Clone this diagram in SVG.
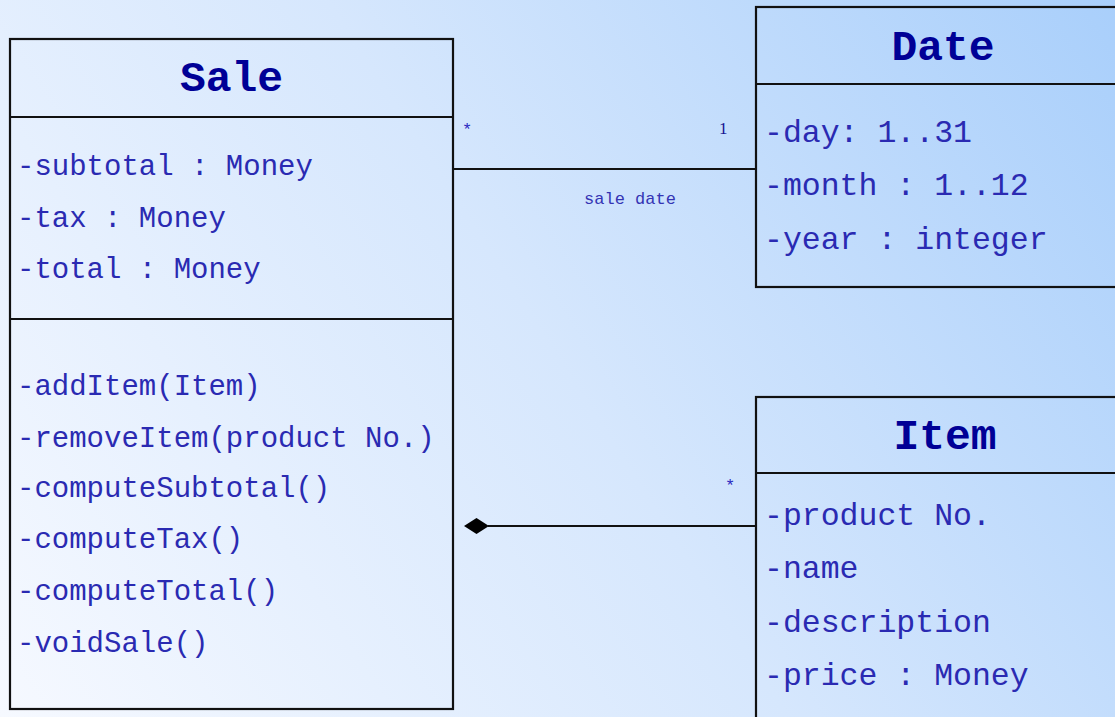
<svg xmlns="http://www.w3.org/2000/svg" width="1115" height="717" viewBox="0 0 1115 717">
  <defs>
    <linearGradient id="bg" gradientUnits="userSpaceOnUse" x1="0" y1="717" x2="1115" y2="0">
      <stop offset="0" stop-color="#f6f9ff"/>
      <stop offset="0.5" stop-color="#d6e7fd"/>
      <stop offset="1" stop-color="#a9cffb"/>
    </linearGradient>
    <style>
      .box { fill: none; stroke: #111; stroke-width: 2.2; }
      .sep { stroke: #111; stroke-width: 2.2; }
      .title { font-family: "Liberation Mono", "Courier New", monospace; font-weight: bold; font-size: 43px; fill: #000096; text-anchor: middle; }
      .attr { font-family: "Liberation Mono", "Courier New", monospace; fill: #2a2ab2; }
      .sa { font-size: 29px; }
      .da { font-size: 31.5px; }
      .conn { stroke: #111; stroke-width: 2.2; fill: none; }
      .mult { font-family: "Liberation Mono", "Courier New", monospace; font-size: 17px; fill: #2a2ac0; }
      .one { font-family: "Liberation Serif", "Times New Roman", serif; font-size: 17px; fill: #141490; }
      .role { font-family: "Liberation Mono", "Courier New", monospace; font-size: 17px; fill: #3434b4; text-anchor: middle; }
    </style>
  </defs>

  <rect x="0" y="0" width="1115" height="717" fill="url(#bg)"/>

  <!-- Sale class -->
  <g id="sale">
    <rect class="box" x="10" y="39" width="443" height="670"/>
    <line class="sep" x1="10" y1="117" x2="453" y2="117"/>
    <line class="sep" x1="10" y1="319" x2="453" y2="319"/>
    <text class="title" x="231.5" y="91">Sale</text>
    <text class="attr sa" x="17" y="175">-subtotal : Money</text>
    <text class="attr sa" x="17" y="227">-tax : Money</text>
    <text class="attr sa" x="17" y="278">-total : Money</text>
    <text class="attr sa" x="17" y="395">-addItem(Item)</text>
    <text class="attr sa" x="17" y="447">-removeItem(product No.)</text>
    <text class="attr sa" x="17" y="497">-computeSubtotal()</text>
    <text class="attr sa" x="17" y="548">-computeTax()</text>
    <text class="attr sa" x="17" y="600">-computeTotal()</text>
    <text class="attr sa" x="17" y="652">-voidSale()</text>
  </g>

  <!-- Date class -->
  <g id="date">
    <rect class="box" x="756" y="7" width="380" height="280"/>
    <line class="sep" x1="756" y1="84" x2="1136" y2="84"/>
    <text class="title" x="943" y="60">Date</text>
    <text class="attr da" x="764" y="142">-day: 1..31</text>
    <text class="attr da" x="764" y="195">-month : 1..12</text>
    <text class="attr da" x="764" y="249">-year : integer</text>
  </g>

  <!-- Item class -->
  <g id="item">
    <rect class="box" x="756" y="397" width="380" height="340"/>
    <line class="sep" x1="756" y1="473" x2="1136" y2="473"/>
    <text class="title" x="945" y="449">Item</text>
    <text class="attr da" x="764" y="525">-product No.</text>
    <text class="attr da" x="764" y="578">-name</text>
    <text class="attr da" x="764" y="632">-description</text>
    <text class="attr da" x="764" y="685">-price : Money</text>
  </g>

  <!-- Associations -->
  <g id="connectors">
    <line class="conn" x1="453" y1="169" x2="756" y2="169"/>
    <text class="mult" x="462" y="135">*</text>
    <text class="one" x="719" y="134">1</text>
    <text class="role" x="630" y="204">sale date</text>

    <line class="conn" x1="488" y1="526" x2="756" y2="526"/>
    <polygon points="464,526 476.5,518 489,526 476.5,534" fill="#000"/>
    <text class="mult" x="725" y="491">*</text>
  </g>
</svg>
